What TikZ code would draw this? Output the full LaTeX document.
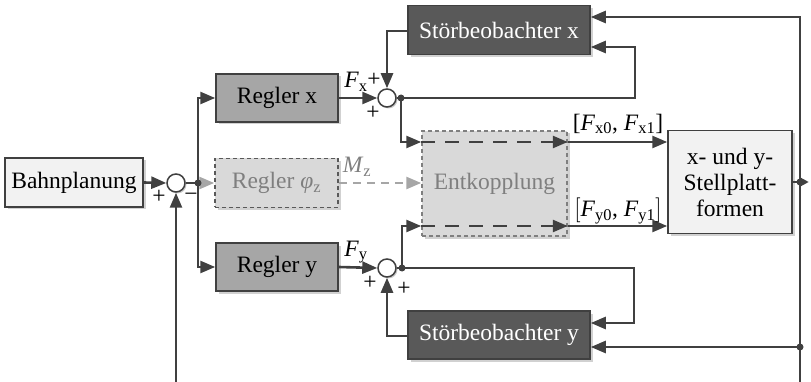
\documentclass[tikz,border=0pt]{standalone}
\usepackage{fontspec}
\setmainfont{Liberation Serif}
\usetikzlibrary{arrows.meta,shadows,calc}
\definecolor{ln}{HTML}{404040}
\definecolor{cLight}{HTML}{F2F2F2}
\definecolor{cMid}{HTML}{A6A6A6}
\definecolor{cDark}{HTML}{595959}
\definecolor{cDash}{HTML}{D9D9D9}
\definecolor{cGreyTxt}{HTML}{7F7F7F}
\tikzset{
  box/.style={draw=ln, line width=1.5pt, inner sep=0pt, align=center,
    drop shadow={shadow xshift=2.5pt, shadow yshift=-2.5pt, fill=black, opacity=0.18}},
  dbox/.style={box, dash pattern=on 4pt off 3pt},
  sumnode/.style={circle, draw=ln, line width=1.5pt, fill=white, minimum size=18pt, inner sep=0pt,
    drop shadow={shadow xshift=1.5pt, shadow yshift=-1.5pt, fill=black, opacity=0.2}},
  wire/.style={draw=ln, line width=2.6pt},
  arr/.style={wire, -{Triangle[length=15pt,width=12pt]}},
  arrs/.style={wire, -{Triangle[length=8pt,width=8pt]}},
  dashwire/.style={arr, dash pattern=on 14pt off 10pt},
  greyarr/.style={draw=cMid, line width=2.6pt, dash pattern=on 8pt off 6pt, -{Triangle[length=15pt,width=12pt]}},
  jdot/.style={circle, fill=ln, inner sep=0pt, minimum size=7pt},
  lbl/.style={inner sep=0pt},
}
\begin{document}
\begin{tikzpicture}[x=1pt,y=-1pt,font=\fontsize{23.5}{26}\selectfont]
\useasboundingbox (0,0) rectangle (811,382);

% blocks
\node[box, fill=cLight, minimum width=138pt, minimum height=49pt] (bp) at (74,182.5) {Bahnplanung};
\node[box, fill=cMid, minimum width=122pt, minimum height=48pt] (rx) at (277,98) {Regler x};
\node[dbox, draw=cDark, fill=cDash, text=cGreyTxt, minimum width=123pt, minimum height=49pt] (rphi) at (276.5,183) {Regler \textit{φ}\textsubscript{z}};
\node[box, fill=cMid, minimum width=122pt, minimum height=48pt] (ry) at (277,267) {Regler y};
\node[box, fill=cDark, text=white, minimum width=182pt, minimum height=49pt] (sbx) at (499,30) {Störbeobachter x};
\node[box, fill=cDark, text=white, minimum width=182pt, minimum height=48pt] (sby) at (499,335) {Störbeobachter y};
\node[dbox, draw=cGreyTxt, fill=cDash, text=cGreyTxt, minimum width=145pt, minimum height=105pt] (ent) at (494.5,183.5) {Entkopplung};
\node[box, fill=cLight, minimum width=124pt, minimum height=103pt] (pl) at (730,182) {x- und y-\\Stellplatt-\\formen};

% summing points
\node[sumnode] (s0) at (176,183) {};
\node[sumnode] (sx) at (387,98) {};
\node[sumnode] (sy) at (387,268) {};

% helper coordinates
\coordinate (d0) at (198,183);
\coordinate (dx) at (401,98);
\coordinate (dy) at (402,268);
\coordinate (cxr) at (635,47);
\coordinate (cyr) at (634,323);
\coordinate (ex) at (401,142);
\coordinate (ey) at (402,226);
\coordinate (vr) at (800,17);
\coordinate (vb) at (800,382);
\coordinate (vy) at (800,347);
\coordinate (fb) at (176,382);
\coordinate (sbxl) at (408,31);
\coordinate (sbyl) at (408,336);

% connectors
\draw[arr] (bp.east) -- (s0.west);
\draw[wire] (s0.east) -- (d0);
\draw[greyarr] (d0) -- (rphi.west);
\draw[arr] (d0) |- (rx.west);
\draw[arr] (d0) |- (ry.west);
\draw[arr] (fb) -- (s0.south);

\draw[arr] (rx.east) -- (sx.west);
\draw[arr] (ry.east) -- (sy.west);
\draw[arr] (sbxl) -| (sx.north);
\draw[arr] (sbyl) -| (sy.south);

\draw[wire] (sx.east) -- (dx);
\draw[arr] (dx) -| (cxr) -- (sbx.east |- cxr);
\draw[wire] (sy.east) -- (dy);
\draw[arr] (dy) -| (cyr) -- (sby.east |- cyr);

\draw[arr] (dx) |- (ent.west |- ex);
\draw[dashwire] (ent.west |- ex) -- (ent.east |- ex);
\draw[arr] (ent.east |- ex) -- (pl.west |- ex);
\draw[arr] (dy) |- (ent.west |- ey);
\draw[dashwire] (ent.west |- ey) -- (ent.east |- ey);
\draw[arr] (ent.east |- ey) -- (pl.west |- ey);

\draw[greyarr] (rphi.east) -- (ent.west |- rphi.east);

\draw[arr] (vb) -- (vr) -- (sbx.east |- vr);
\draw[arr] (vy) -- (sby.east |- vy);
\draw[arrs] (pl.east) -- ++(16,0);

% junction dots
\node[jdot] at (d0) {};
\node[jdot] at (dx) {};
\node[jdot] at (dy) {};
\node[jdot] at (vy) {};
\node[jdot] at (pl.east -| vr) {};

% labels
\node[lbl] at (159,197) {+};
\node[lbl] at (191,197) {−};
\node[lbl] at (356,82) {\textit{F}\textsubscript{x}};
\node[lbl] at (374,80) {+};
\node[lbl] at (373,113) {+};
\node[lbl] at (356,252) {\textit{F}\textsubscript{y}};
\node[lbl] at (370,283) {+};
\node[lbl] at (404,289) {+};
\node[lbl, text=cGreyTxt] at (357,167) {\textit{M}\textsubscript{z}};
\node[lbl] at (618,124) {[\textit{F}\textsubscript{x0}, \textit{F}\textsubscript{x1}]};
\node[lbl] at (618,211) {$\big[$\textit{F}\textsubscript{y0}, \textit{F}\textsubscript{y1}$\big]$};
\end{tikzpicture}
\end{document}
